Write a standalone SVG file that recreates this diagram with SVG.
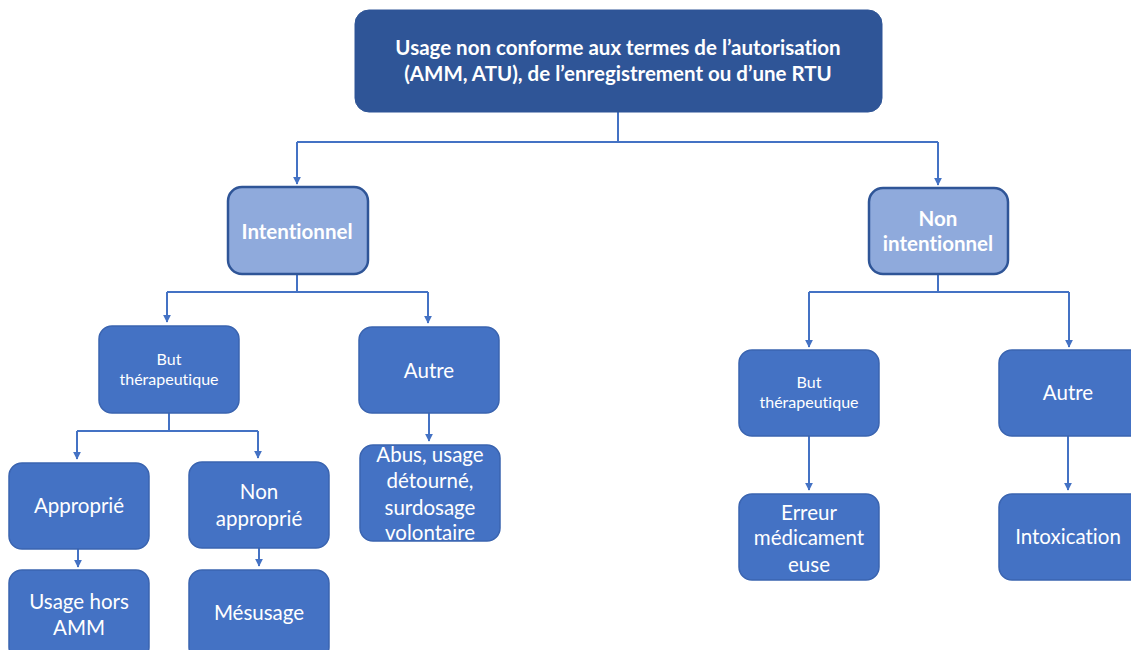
<svg xmlns="http://www.w3.org/2000/svg" width="1131" height="650" viewBox="0 0 1131 650">
<defs>
<marker id="arr" viewBox="0 0 10 10" refX="9" refY="5" markerWidth="4" markerHeight="4" orient="auto" markerUnits="strokeWidth">
<path d="M0,0 L10,5 L0,10 z" fill="#4472C4"/>
</marker>
<style>
.n{fill:#4472C4;stroke:#3A64B0;stroke-width:1.5}
.l{fill:#8FAADC;stroke:#2F5597;stroke-width:2.5}
.t{fill:#2F5597;stroke:#2F5597;stroke-width:1}
text{font-family:Lato,"Open Sans","Liberation Sans",sans-serif;fill:#fff;text-anchor:middle;font-size:20.5px;font-variant-ligatures:none;font-feature-settings:"liga" 0}
.b{font-weight:bold}
.s{font-size:16px}
.c{fill:none;stroke:#4472C4;stroke-width:2}
</style>
</defs>
<rect width="1131" height="650" fill="#fff"/>
<g id="connectors">
<path class="c" d="M618,112 V142 M297,142 H938"/>
<path class="c" d="M297,142 V184" marker-end="url(#arr)"/>
<path class="c" d="M938,142 V185" marker-end="url(#arr)"/>
<path class="c" d="M297,274 V292 M167,292 H428"/>
<path class="c" d="M167,292 V322" marker-end="url(#arr)"/>
<path class="c" d="M428,292 V323" marker-end="url(#arr)"/>
<path class="c" d="M169,413 V431 M77,431 H258"/>
<path class="c" d="M77,431 V459" marker-end="url(#arr)"/>
<path class="c" d="M258,431 V458" marker-end="url(#arr)"/>
<path class="c" d="M78,549 V567" marker-end="url(#arr)"/>
<path class="c" d="M259,548 V566" marker-end="url(#arr)"/>
<path class="c" d="M429,413 V441" marker-end="url(#arr)"/>
<path class="c" d="M938,274 V292 M809,292 H1069"/>
<path class="c" d="M809,292 V347" marker-end="url(#arr)"/>
<path class="c" d="M1069,292 V347" marker-end="url(#arr)"/>
<path class="c" d="M809,436 V490" marker-end="url(#arr)"/>
<path class="c" d="M1068,436 V490" marker-end="url(#arr)"/>
</g>
<g id="root">
<rect class="t" x="355" y="10" width="527" height="102" rx="14"/>
<text class="b" x="618" y="55">Usage non conforme aux termes de l’autorisation</text>
<text class="b" x="618" y="81">(AMM, ATU), de l’enregistrement ou d’une RTU</text>
</g>
<g id="intentionnel">
<rect class="l" x="228" y="187" width="140" height="87" rx="14"/>
<text class="b" x="297" y="239">Intentionnel</text>
</g>
<g id="non-intentionnel">
<rect class="l" x="869" y="188" width="139" height="86" rx="14"/>
<text class="b" x="938" y="226">Non</text>
<text class="b" x="938" y="251">intentionnel</text>
</g>
<g id="but-left">
<rect class="n" x="99" y="326" width="140" height="87" rx="13"/>
<text class="s" x="169" y="365">But</text>
<text class="s" x="169" y="385">thérapeutique</text>
</g>
<g id="autre-left">
<rect class="n" x="359" y="327" width="140" height="86" rx="13"/>
<text x="429" y="378">Autre</text>
</g>
<g id="approprie">
<rect class="n" x="9" y="463" width="140" height="86" rx="13"/>
<text x="79" y="513">Approprié</text>
</g>
<g id="non-approprie">
<rect class="n" x="189" y="462" width="140" height="86" rx="13"/>
<text x="259" y="499">Non</text>
<text x="259" y="526">approprié</text>
</g>
<g id="hors-amm">
<rect class="n" x="9" y="570" width="140" height="90" rx="13"/>
<text x="79" y="609">Usage hors</text>
<text x="79" y="635">AMM</text>
</g>
<g id="mesusage">
<rect class="n" x="189" y="570" width="140" height="90" rx="13"/>
<text x="259" y="620">Mésusage</text>
</g>
<g id="abus">
<rect class="n" x="360" y="445" width="140" height="96" rx="13"/>
<text x="430" y="462">Abus, usage</text>
<text x="430" y="488">détourné,</text>
<text x="430" y="515">surdosage</text>
<text x="430" y="540">volontaire</text>
</g>
<g id="but-right">
<rect class="n" x="739" y="350" width="140" height="86" rx="13"/>
<text class="s" x="809" y="388">But</text>
<text class="s" x="809" y="408">thérapeutique</text>
</g>
<g id="autre-right">
<rect class="n" x="999" y="350" width="145" height="86" rx="13"/>
<text x="1068" y="400">Autre</text>
</g>
<g id="erreur">
<rect class="n" x="739" y="494" width="140" height="86" rx="13"/>
<text x="809" y="520">Erreur</text>
<text x="809" y="545">médicament</text>
<text x="809" y="572">euse</text>
</g>
<g id="intoxication">
<rect class="n" x="999" y="494" width="145" height="86" rx="13"/>
<text x="1068" y="544">Intoxication</text>
</g>
</svg>
